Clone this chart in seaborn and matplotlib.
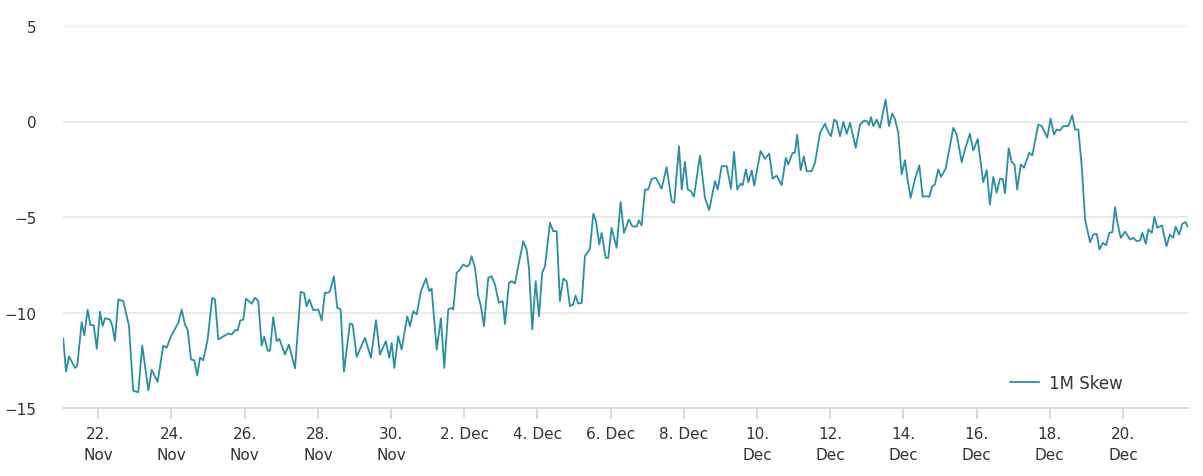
import pandas as pd
import numpy as np
import matplotlib
matplotlib.use("Agg")
import matplotlib.pyplot as plt
import matplotlib.dates as mdates
import seaborn as sns

# ── Data: 1M skew, hours since 21 Nov 00:00 ─────────────────────────────────
START = pd.Timestamp("2022-11-21 00:00")

hours = [
    1.0, 2.8, 4.8, 8.7, 10.2, 13.1, 14.8, 17.0, 18.8, 21.0, 23.0, 25.1, 26.9, 28.4,
    31.7, 33.2, 34.9, 37.1, 40.4, 44.1, 46.9, 50.2, 52.8, 56.8, 59.0, 62.9, 66.6,
    68.8, 71.7, 76.5, 78.7, 80.8, 82.6, 84.8, 86.9, 88.9, 90.7, 92.8, 95.7, 98.7,
    100.5, 102.7, 107.1, 109.2, 111.5, 113.6, 115.4, 117.1, 119.1, 120.8, 124.6,
    126.7, 128.9, 131.1, 132.8, 135.1, 136.6, 138.7, 141.0, 142.7, 146.4, 149.0,
    153.0, 156.7, 158.9, 160.6, 162.4, 165.0, 168.3, 170.5, 172.6, 174.8, 175.9,
    178.5, 180.7, 182.9, 185.1, 189.0, 190.8, 193.4, 198.9, 202.8, 206.1, 208.7,
    212.6, 214.8, 216.4, 218.1, 220.7, 222.9, 226.6, 228.4, 230.5, 232.8, 235.6,
    238.9, 241.0, 242.6, 245.9, 248.7, 250.9, 253.5, 255.7, 256.8, 259.0, 261.2,
    263.3, 265.6, 267.3, 268.8, 271.0, 273.2, 274.9, 276.9, 279.7, 281.9, 284.1,
    286.7, 289.2, 290.7, 293.3, 295.1, 297.2, 299.4, 302.7, 304.9, 306.4, 308.6,
    310.8, 313.0, 315.1, 316.9, 320.2, 322.3, 324.6, 326.7, 328.9, 331.1, 333.3,
    335.4, 337.0, 338.7, 341.0, 343.1, 346.4, 348.6, 350.4, 352.5, 354.1, 356.7,
    358.4, 360.6, 363.9, 366.5, 368.7, 372.0, 374.1, 377.0, 378.5, 380.3, 382.5,
    384.6, 386.9, 389.7, 391.2, 393.4, 396.7, 400.0, 401.7, 404.8, 406.6, 408.7,
    410.5, 412.6, 414.6, 418.6, 421.8, 424.6, 428.4, 430.2, 432.8, 436.1, 438.9,
    440.9, 443.0, 445.2, 446.5, 448.7, 450.2, 452.5, 454.1, 458.3, 461.2, 464.0,
    466.2, 468.8, 472.1, 474.9, 476.4, 479.3, 480.8, 482.3, 484.6, 486.7, 488.5,
    491.8, 494.0, 497.3, 500.5, 502.7, 504.5, 506.6, 508.2, 510.4, 512.6, 514.8,
    517.0, 520.7, 523.5, 526.3, 528.3, 529.4, 530.7, 532.2, 534.4, 536.6, 540.3,
    542.5, 544.6, 546.4, 548.6, 550.8, 553.0, 554.7, 556.7, 559.5, 562.4, 564.6,
    566.7, 568.9, 570.9, 572.6, 574.8, 576.6, 579.7, 584.7, 586.9, 590.2, 592.3,
    595.6, 597.8, 600.7, 604.3, 606.6, 608.7, 610.9, 613.1, 615.3, 617.1, 618.6,
    621.0, 623.0, 624.8, 626.6, 628.9, 631.0, 634.5, 636.5, 640.4, 642.7, 646.3,
    648.5, 650.7, 652.5, 654.6, 656.8, 660.1, 662.7, 664.5, 666.7, 668.9, 671.1,
    674.4, 676.5, 678.8, 680.5, 682.7, 684.9, 687.0, 689.0, 690.8, 692.3, 694.5,
    697.4, 700.6, 702.8, 705.0, 707.2, 708.7, 710.9, 712.6, 714.9, 716.6, 718.4,
    721.5, 724.5, 726.7, 728.9, 730.5, 732.8, 735.0, 737.0, 738.3,
]

skew = [
    -11.36, -13.1, -12.3, -12.9, -12.8, -10.5, -11.2, -9.85, -10.66, -10.66, -11.9,
    -9.96, -10.7, -10.3, -10.37, -10.7, -11.47, -9.32, -9.4, -10.7, -14.1, -14.17,
    -11.73, -14.07, -13.0, -13.63, -11.73, -11.85, -11.24, -10.54, -9.84, -10.63,
    -10.9, -12.46, -12.5, -13.3, -12.36, -12.5, -11.41, -9.23, -9.32, -11.41, -11.2,
    -11.1, -11.15, -10.93, -10.93, -10.42, -10.37, -9.28, -9.54, -9.23, -9.4, -11.73,
    -11.27, -12.0, -12.0, -10.24, -11.5, -11.38, -12.2, -11.68, -12.93, -8.92, -8.97,
    -9.67, -9.32, -9.88, -9.84, -10.42, -8.97, -8.97, -8.88, -8.1, -9.76, -9.84,
    -13.1, -10.58, -10.63, -12.32, -11.33, -12.37, -10.4, -12.2, -11.5, -12.37,
    -11.59, -12.9, -11.24, -11.94, -10.2, -10.72, -9.93, -10.1, -8.88, -8.22, -8.88,
    -8.76, -11.94, -10.3, -12.9, -9.84, -9.76, -9.84, -7.92, -7.75, -7.49, -7.6,
    -7.49, -7.05, -7.66, -9.15, -9.67, -10.72, -8.19, -8.1, -8.53, -9.49, -9.4,
    -10.6, -8.45, -8.36, -8.48, -7.58, -6.27, -6.7, -7.66, -10.89, -8.36, -10.2,
    -7.92, -7.58, -5.3, -5.74, -5.74, -9.4, -8.22, -8.36, -9.67, -9.58, -9.11,
    -9.53, -9.49, -7.05, -6.67, -4.83, -5.22, -6.44, -5.83, -7.14, -7.14, -5.57,
    -6.61, -4.22, -5.83, -5.13, -5.48, -5.51, -5.18, -5.44, -3.56, -3.56, -3.0,
    -2.95, -3.18, -3.52, -2.39, -4.17, -4.26, -1.29, -3.56, -2.11, -3.56, -3.65,
    -3.94, -1.78, -3.99, -4.64, -3.12, -3.56, -2.34, -2.34, -3.52, -1.59, -3.56,
    -3.25, -3.35, -2.51, -3.18, -2.57, -3.35, -1.55, -1.95, -1.68, -3.0, -2.83,
    -3.33, -1.9, -2.25, -1.64, -1.64, -0.68, -2.55, -1.82, -2.6, -2.6, -2.16,
    -0.59, -0.12, -0.54, -0.77, 0.1, 0.0, -0.77, -0.02, -0.64, -0.07, -1.38,
    -0.16, 0.05, 0.0, -0.19, 0.23, -0.24, 0.1, -0.33, 1.15, -0.24, 0.42, 0.14,
    -0.59, -2.77, -2.03, -3.04, -4.0, -3.04, -2.3, -3.94, -3.91, -3.94, -3.39,
    -3.3, -2.51, -2.9, -2.46, -0.33, -0.68, -2.13, -1.47, -0.64, -1.52, -0.91,
    -3.18, -2.55, -4.35, -2.9, -3.73, -3.0, -3.0, -3.75, -1.4, -2.12, -2.25,
    -3.56, -2.25, -2.42, -1.64, -1.78, -0.16, -0.24, -0.85, 0.16, -0.68, -0.42,
    -0.47, -0.24, -0.24, 0.33, -0.42, -0.42, -2.34, -5.13, -6.32, -5.92, -5.88,
    -6.7, -6.35, -6.48, -5.83, -5.79, -4.49, -5.3, -6.09, -5.77, -6.18, -6.09,
    -6.27, -6.22, -5.83, -6.4, -5.65, -5.83, -4.99, -5.57, -5.44, -6.53, -5.92,
    -6.09, -5.51, -5.92, -5.34, -5.27, -5.51,
]

tick_dates = [
    "2022-11-22", "2022-11-24", "2022-11-26", "2022-11-28", "2022-11-30",
    "2022-12-02", "2022-12-04", "2022-12-06", "2022-12-08", "2022-12-10",
    "2022-12-12", "2022-12-14", "2022-12-16", "2022-12-18", "2022-12-20",
]
tick_labels = [
    "22.\nNov", "24.\nNov", "26.\nNov", "28.\nNov", "30.\nNov",
    "2. Dec", "4. Dec", "6. Dec", "8. Dec", "10.\nDec",
    "12.\nDec", "14.\nDec", "16.\nDec", "18.\nDec", "20.\nDec",
]
y_ticks = [5, 0, -5, -10, -15]

df = pd.DataFrame({
    "time": START + pd.to_timedelta(hours, unit="h"),
    "skew": skew,
})

# ── Style ────────────────────────────────────────────────────────────────────
sns.set_theme(style="white")
plt.rcParams["font.family"] = ["DejaVu Sans"]

LINE_COLOR = "#2a8fa3"
GRID_COLOR = "#e6e6e6"
AXIS_COLOR = "#ccd6eb"
TEXT_COLOR = "#333333"

fig = plt.figure(figsize=(12.03, 4.77), dpi=100, facecolor="white")
ax = fig.add_axes([63 / 1203, 1 - 409 / 477, 1125 / 1203, 382 / 477])

sns.lineplot(data=df, x="time", y="skew", color=LINE_COLOR, linewidth=1.3,
             label="1M Skew", ax=ax)

ax.set_ylim(-15, 5)
ax.set_xlim(START + pd.Timedelta(hours=0.85), START + pd.Timedelta(hours=738.6))

ax.set_yticks(y_ticks)
ax.set_yticklabels([str(v).replace("-", "\u2212") for v in y_ticks])
ax.set_xticks(pd.to_datetime(tick_dates))
ax.set_xticklabels(tick_labels, linespacing=1.5)

for v in y_ticks[:-1]:
    ax.axhline(v, color=GRID_COLOR, linewidth=1.2, zorder=0)

for side in ["left", "right", "top"]:
    ax.spines[side].set_visible(False)
ax.spines["bottom"].set_color(AXIS_COLOR)
ax.spines["bottom"].set_linewidth(1.2)

ax.tick_params(axis="x", length=8, width=1.2, color=AXIS_COLOR, pad=5,
               labelsize=11, labelcolor=TEXT_COLOR, direction="out", bottom=True)
ax.tick_params(axis="y", length=0, pad=19, labelsize=11, labelcolor=TEXT_COLOR)

ax.set_xlabel("")
ax.set_ylabel("")

leg = ax.legend(loc="center left", bbox_to_anchor=(1010 / 1203, 1 - 384 / 477),
                bbox_transform=fig.transFigure, frameon=False, fontsize=12,
                handlelength=1.75, handletextpad=0.6, borderpad=0, borderaxespad=0)
for t in leg.get_texts():
    t.set_color(TEXT_COLOR)

plt.savefig("out.png", dpi=100, facecolor="white")
